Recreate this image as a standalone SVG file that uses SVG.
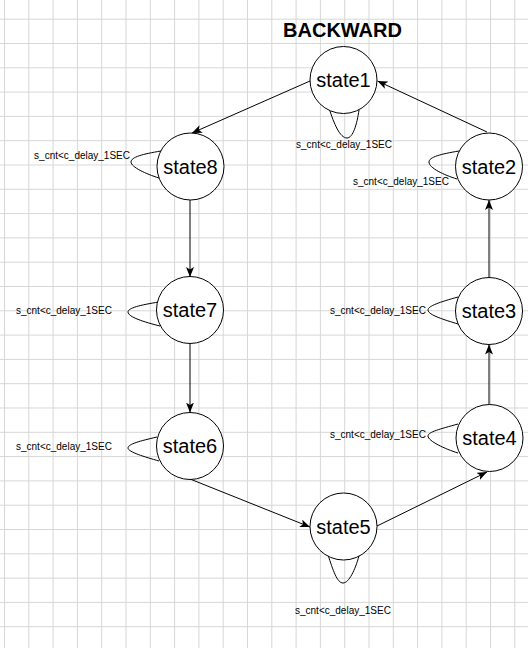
<svg xmlns="http://www.w3.org/2000/svg" width="528" height="648" viewBox="0 0 528 648">
  <defs>
    <!-- background grid -->
    <pattern id="grid" patternUnits="userSpaceOnUse" x="4" y="-5.6" width="24.3" height="24.3">
      <path d="M0.5,0 V24.3 M0,0.5 H24.3" fill="none" stroke="#d6d6d6" stroke-width="1"/>
    </pattern>
    <!-- classic block arrowhead -->
    <marker id="arrow" markerUnits="userSpaceOnUse" markerWidth="11" markerHeight="9" refX="10" refY="4" orient="auto">
      <path d="M0,0 L10,4 L0,8 L2.5,4 Z" fill="#000"/>
    </marker>
  </defs>
  <style>
    .state circle { fill: #fff; stroke: #000; stroke-width: 1; }
    .state text { font-family: "Liberation Sans", Arial, sans-serif; font-size: 20px; text-anchor: middle; fill: #000; }
    .edge { fill: none; stroke: #000; stroke-width: 1; }
    .arrowed { marker-end: url(#arrow); }
    .cond { font-family: "Liberation Sans", Arial, sans-serif; font-size: 10px; fill: #000; }
    .title { font-family: "Liberation Sans", Arial, sans-serif; font-size: 20px; font-weight: bold; text-anchor: middle; fill: #000; }
  </style>

  <rect width="528" height="648" fill="#fff"/>
  <rect width="528" height="648" fill="url(#grid)"/>

  <text class="title" x="342.5" y="36.5">BACKWARD</text>

  <!-- transitions and self loops -->
  <g id="connectors">
    <path class="edge arrowed" d="M310,81 L192,133"/>
    <path class="edge arrowed" d="M487,132 L377.5,81"/>
    <path class="edge arrowed" d="M190,200 L190,277"/>
    <path class="edge arrowed" d="M190,343 L190,412.5"/>
    <path class="edge arrowed" d="M190,479 L310,527"/>
    <path class="edge arrowed" d="M377,526 L487,472"/>
    <path class="edge arrowed" d="M489,404.5 L489,344.5"/>
    <path class="edge arrowed" d="M489,277.5 L489,200"/>

    <path class="edge" d="M329,108 C334,124 340,138 347,138 C353,138 357,124 359,110"/>
    <path class="edge" d="M161,151 C143,154 131,157 131,162 C131,167 146,174 159,178"/>
    <path class="edge" d="M459,151 C441,154 429,157 429,162 C429,168 444,175 457,179"/>
    <path class="edge" d="M159,302 C140,305 128,308 128,312 C128,317 144,322 160,326"/>
    <path class="edge" d="M458,297 C440,302 428,306 428,310 C428,315 445,320 458,324"/>
    <path class="edge" d="M458,424 C440,429 428,432 428,436 C428,441 445,449 458,453"/>
    <path class="edge" d="M157,437 C140,441 128,444 128,448 C128,452 145,457 159,461"/>
    <path class="edge" d="M328,555 C333,570 337,583 343,583 C349,583 355,570 359,556"/>

    <text class="cond" x="344" y="148" text-anchor="middle">s_cnt&lt;c_delay_1SEC</text>
    <text class="cond" x="130" y="159" text-anchor="end">s_cnt&lt;c_delay_1SEC</text>
    <text class="cond" x="353" y="185">s_cnt&lt;c_delay_1SEC</text>
    <text class="cond" x="16" y="314">s_cnt&lt;c_delay_1SEC</text>
    <text class="cond" x="330" y="314">s_cnt&lt;c_delay_1SEC</text>
    <text class="cond" x="330" y="438">s_cnt&lt;c_delay_1SEC</text>
    <text class="cond" x="16" y="450">s_cnt&lt;c_delay_1SEC</text>
    <text class="cond" x="295" y="614">s_cnt&lt;c_delay_1SEC</text>
  </g>

  <g id="state1" class="state"><circle cx="343.5" cy="80" r="33.5"/><text x="343.5" y="87">state1</text></g>
  <g id="state2" class="state"><circle cx="489" cy="166.5" r="33.5"/><text x="489" y="173.5">state2</text></g>
  <g id="state3" class="state"><circle cx="489" cy="311" r="33.5"/><text x="489" y="318">state3</text></g>
  <g id="state4" class="state"><circle cx="489.5" cy="438" r="33.5"/><text x="489.5" y="445">state4</text></g>
  <g id="state5" class="state"><circle cx="343.5" cy="526.5" r="33.5"/><text x="343.5" y="533.5">state5</text></g>
  <g id="state6" class="state"><circle cx="190" cy="446" r="33.5"/><text x="190" y="453">state6</text></g>
  <g id="state7" class="state"><circle cx="190" cy="310" r="33.5"/><text x="190" y="317">state7</text></g>
  <g id="state8" class="state"><circle cx="190.5" cy="166.5" r="33.5"/><text x="190.5" y="173.5">state8</text></g>
</svg>
